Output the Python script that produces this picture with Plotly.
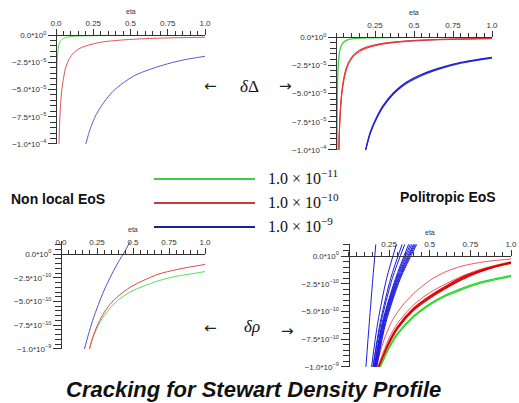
import plotly.graph_objects as go

W, H = 519, 403

# ---------------- data ----------------
# y values in units of 1e-4 (top panels) and 1e-9 (bottom panels)
x_ticks = [0.0, 0.25, 0.5, 0.75, 1.0]
x_ticktext = ["0.0", "0.25", "0.5", "0.75", "1.0"]
y_ticks = [0.0, -0.25, -0.5, -0.75, -1.0]
y_ticktext_top = ["0.0*10<sup>0</sup>", "−2.5*10<sup>−5</sup>", "−5.0*10<sup>−5</sup>",
                  "−7.5*10<sup>−5</sup>", "−1.0*10<sup>−4</sup>"]
y_ticktext_bot = ["0.0*10<sup>0</sup>", "−2.5*10<sup>−10</sup>", "−5.0*10<sup>−10</sup>",
                  "−7.5*10<sup>−10</sup>", "−1.0*10<sup>−9</sup>"]
legend_labels = ["1.0 × 10<sup>−11</sup>", "1.0 × 10<sup>−10</sup>", "1.0 × 10<sup>−9</sup>"]
legend_levels = [3, 2, 1]

# Panel 1: Non local EoS, delta Delta
p1_green_x = [0.003, 0.004, 0.005, 0.007, 0.01, 0.015, 0.02, 0.03, 0.05, 0.08, 0.12, 0.2, 0.5, 1.0]
p1_green_y = [-1.0, -0.55, -0.4, -0.28, -0.19, -0.12, -0.085, -0.055, -0.03, -0.018, -0.011, -0.007, -0.003, -0.0015]
p1_red_x = [0.02, 0.024, 0.03, 0.038, 0.05, 0.065, 0.085, 0.11, 0.15, 0.2, 0.3, 0.45, 0.65, 1.0]
p1_red_y = [-1.0, -0.82, -0.65, -0.52, -0.40, -0.30, -0.23, -0.175, -0.13, -0.10, -0.066, -0.045, -0.03, -0.02]
p1_blue_x = [0.2, 0.23, 0.27, 0.32, 0.38, 0.45, 0.53, 0.62, 0.72, 0.85, 1.0]
p1_blue_y = [-1.0, -0.86, -0.73, -0.62, -0.52, -0.44, -0.37, -0.32, -0.275, -0.23, -0.195]

# Panel 2: Politropic EoS, delta Delta (bundles)
p2_green_x = [0.006, 0.008, 0.01, 0.013, 0.017, 0.022, 0.03, 0.045, 0.07, 0.1, 0.2, 0.5, 1.0]
p2_green_y = [-1.0, -0.6, -0.4, -0.28, -0.2, -0.14, -0.09, -0.05, -0.028, -0.017, -0.008, -0.003, -0.0015]
p2_red_x = [0.018, 0.022, 0.027, 0.035, 0.045, 0.06, 0.08, 0.11, 0.15, 0.2, 0.3, 0.45, 0.65, 1.0]
p2_red_ya = [-1.0, -0.82, -0.67, -0.52, -0.41, -0.31, -0.23, -0.165, -0.12, -0.09, -0.058, -0.036, -0.022, -0.012]
p2_red_yb = [-1.0, -0.84, -0.69, -0.54, -0.43, -0.325, -0.242, -0.175, -0.13, -0.097, -0.063, -0.04, -0.025, -0.015]
p2_red_yc = [-1.0, -0.81, -0.66, -0.51, -0.40, -0.30, -0.224, -0.16, -0.116, -0.086, -0.055, -0.034, -0.021, -0.011]
p2_blue_x = [0.19, 0.22, 0.26, 0.3, 0.37, 0.45, 0.55, 0.65, 0.8, 1.0]
p2_blue_ya = [-1.0, -0.84, -0.71, -0.61, -0.49, -0.40, -0.33, -0.28, -0.225, -0.18]
p2_blue_yb = [-1.0, -0.85, -0.72, -0.62, -0.50, -0.41, -0.338, -0.286, -0.23, -0.185]
p2_blue_yc = [-1.0, -0.855, -0.725, -0.625, -0.505, -0.415, -0.343, -0.29, -0.234, -0.188]

# Panel 3: Non local EoS, delta rho
p3_blue_x = [0.163, 0.19, 0.22, 0.26, 0.30, 0.35, 0.40, 0.44, 0.48]
p3_blue_y = [-1.0, -0.85, -0.70, -0.53, -0.38, -0.22, -0.08, 0.02, 0.13]
p3_x = [0.198, 0.22, 0.25, 0.29, 0.34, 0.4, 0.48, 0.57, 0.68, 0.8, 0.9, 1.0]
p3_red_y = [-1.0, -0.88, -0.76, -0.64, -0.53, -0.44, -0.35, -0.28, -0.21, -0.165, -0.135, -0.11]
p3_green_y = [-1.0, -0.89, -0.78, -0.67, -0.57, -0.48, -0.40, -0.34, -0.28, -0.235, -0.21, -0.185]

# Panel 4: Politropic EoS, delta rho (families of curves)
p4_green_x = [0.195, 0.25, 0.3, 0.4, 0.5, 0.6, 0.7, 0.8, 0.9, 1.0]
p4_green_ya = [-1.0, -0.83, -0.71, -0.55, -0.44, -0.36, -0.30, -0.25, -0.215, -0.185]
p4_green_yb = [-1.0, -0.82, -0.70, -0.54, -0.43, -0.35, -0.29, -0.24, -0.205, -0.175]
p4_red_x = [0.185, 0.25, 0.3, 0.4, 0.5, 0.6, 0.7, 0.8, 0.9, 1.0]
p4_red_ya = [-1.0, -0.78, -0.65, -0.48, -0.37, -0.28, -0.20, -0.14, -0.095, -0.06]
p4_red_yb = [-1.0, -0.77, -0.64, -0.47, -0.36, -0.27, -0.19, -0.133, -0.09, -0.055]
p4_red_yc = [-1.0, -0.79, -0.66, -0.49, -0.38, -0.29, -0.21, -0.148, -0.10, -0.066]
p4_redthin_x = [0.17, 0.22, 0.27, 0.33, 0.4, 0.5, 0.6, 0.7, 0.8, 0.9, 1.0]
p4_redthin_y = [-1.0, -0.75, -0.58, -0.45, -0.34, -0.22, -0.14, -0.09, -0.06, -0.04, -0.028]
p4_redthin2_x = [0.18, 0.25, 0.3, 0.4, 0.5, 0.6, 0.7, 0.8, 0.9, 1.0]
p4_redthin2_y = [-1.0, -0.74, -0.61, -0.44, -0.33, -0.25, -0.18, -0.125, -0.085, -0.052]
p4_blue_y = [-1.0, -0.6, -0.2, 0.105]
p4_blue_xs = [
    [0.107, 0.128, 0.15, 0.168],
    [0.142, 0.18, 0.235, 0.295],
    [0.150, 0.195, 0.26, 0.33],
    [0.152, 0.20, 0.27, 0.346],
    [0.158, 0.208, 0.29, 0.37],
    [0.160, 0.212, 0.295, 0.38],
    [0.162, 0.215, 0.30, 0.39],
    [0.165, 0.218, 0.305, 0.40],
    [0.168, 0.222, 0.31, 0.405],
    [0.171, 0.226, 0.315, 0.412],
    [0.174, 0.23, 0.32, 0.42],
]

# ---------------- layout helpers ----------------
# panel geometry in pixels: x of eta=0, x of eta=1, top, y-of-zero, bottom
panels = {
    1: dict(x0=56, x1=205, top=35, zero=35, bottom=144, ytext=y_ticktext_top, xlab=True),
    2: dict(x0=336, x1=492, top=37, zero=37, bottom=150, ytext=y_ticktext_top, xlab=False),
    3: dict(x0=61, x1=205, top=241, zero=254, bottom=349, ytext=y_ticktext_bot, xlab=True),
    4: dict(x0=348.5, x1=511, top=244, zero=256, bottom=367, ytext=y_ticktext_bot, xlab=False),
}

AX = "#333333"
TICKFONT = dict(family="Liberation Sans, Arial, sans-serif", size=8, color="#333333")

fig = go.Figure()

def add_line(n, xs, ys, color, width=1.0):
    fig.add_trace(go.Scatter(x=xs, y=ys, mode="lines", xaxis=f"x{n}", yaxis=f"y{n}",
                             line=dict(color=color, width=width, shape="spline", smoothing=0.8),
                             hoverinfo="skip", showlegend=False))

layout = dict(width=W, height=H, margin=dict(l=0, r=0, t=0, b=0),
              paper_bgcolor="white", plot_bgcolor="white", showlegend=False)

annotations = []
for n, p in panels.items():
    ytop = (p["zero"] - p["top"]) / (p["bottom"] - p["zero"])
    xdom = [p["x0"] / W, p["x1"] / W]
    ydom = [1 - p["bottom"] / H, 1 - p["top"] / H]
    if p["xlab"]:
        xt, xtt = x_ticks, x_ticktext
    else:
        xt, xtt = x_ticks[1:], x_ticktext[1:]
    layout[f"xaxis{n}"] = dict(
        domain=xdom, range=[0, 1.0], anchor="free", position=1 - p["zero"] / H, side="top",
        showline=True, linecolor=AX, linewidth=1, showgrid=False, zeroline=False,
        ticks="outside", ticklen=6, tickcolor=AX, tickwidth=1,
        tickmode="array", tickvals=xt, ticktext=xtt, tickfont=TICKFONT,
        ticklabeloverflow="allow",
        minor=dict(ticks="outside", ticklen=4, tickcolor=AX, tick0=0, dtick=0.05, showgrid=False),
        automargin=False, fixedrange=True)
    layout[f"yaxis{n}"] = dict(
        domain=ydom, range=[-1.0005, ytop + 0.0005], anchor="free", position=p["x0"] / W, side="left",
        showline=True, linecolor=AX, linewidth=1, showgrid=False, zeroline=False,
        ticks="outside", ticklen=8, tickcolor=AX, tickwidth=1,
        tickmode="array", tickvals=y_ticks, ticktext=p["ytext"], tickfont=TICKFONT,
        ticklabeloverflow="allow",
        minor=dict(ticks="outside", ticklen=6, tickcolor=AX, tick0=0, dtick=0.05, showgrid=False),
        automargin=False, fixedrange=True)
    # axis title "eta" above tick labels
    annotations.append(dict(text="eta", xref=f"x{n}", x=0.5, yref="paper",
                            y=1 - (p["zero"] - 24) / H, yanchor="middle", showarrow=False,
                            font=dict(family="Liberation Sans, Arial", size=7, color="#333333")))

# legend axes (hidden)
layout["xaxis5"] = dict(domain=[154 / W, 255 / W], range=[0, 1], visible=False, anchor="y5", fixedrange=True)
layout["yaxis5"] = dict(domain=[1 - 239 / H, 1 - 167 / H], range=[0.5, 3.5], visible=False, anchor="x5", fixedrange=True)

# ---------------- traces ----------------
G1, R1, B1 = "#55d655", "#e25555", "#5a5ad8"
add_line(1, p1_green_x, p1_green_y, G1)
add_line(1, p1_red_x, p1_red_y, R1)
add_line(1, p1_blue_x, p1_blue_y, B1)

G2, R2, B2, B2L = "#3fd23f", "#e23a3a", "#2323cc", "#7a7ae6"
add_line(2, p2_green_x, p2_green_y, G2, 1.3)
for ys in (p2_red_ya, p2_red_yb, p2_red_yc):
    add_line(2, p2_red_x, ys, R2, 1.0)
add_line(2, p2_blue_x, p2_blue_yc, B2L, 1.0)
add_line(2, p2_blue_x, p2_blue_yb, B2, 1.2)
add_line(2, p2_blue_x, p2_blue_ya, B2, 1.2)

add_line(3, p3_x, p3_green_y, "#5ade5a")
add_line(3, p3_x, p3_red_y, "#e04848")
add_line(3, p3_blue_x, p3_blue_y, "#5050d2")

add_line(4, p4_green_x, p4_green_ya, "#2fd82f", 1.3)
add_line(4, p4_green_x, p4_green_yb, "#2fd82f", 1.3)
add_line(4, p4_redthin_x, p4_redthin_y, "#e53030", 0.8)
add_line(4, p4_redthin2_x, p4_redthin2_y, "#e53030", 0.8)
for ys in (p4_red_ya, p4_red_yb, p4_red_yc):
    add_line(4, p4_red_x, ys, "#e00000", 1.3)
for xs in p4_blue_xs:
    add_line(4, xs, p4_blue_y, "#1c1cdc", 1.0)

# legend lines
leg_colors = ["#3cd23c", "#c04040", "#20208c"]
for lvl, col in zip(legend_levels, leg_colors):
    fig.add_trace(go.Scatter(x=[0, 1], y=[lvl, lvl], mode="lines", xaxis="x5", yaxis="y5",
                             line=dict(color=col, width=2.2), hoverinfo="skip", showlegend=False))

SERIF = "Liberation Serif, DejaVu Serif, serif"
for lbl, py in zip(legend_labels, [177, 201, 225]):
    annotations.append(dict(text=lbl, xref="paper", yref="paper", x=266 / W, y=1 - py / H,
                            xanchor="left", yanchor="middle", showarrow=False,
                            font=dict(family=SERIF, size=16, color="#111")))

# arrows and symbols
for txt, px, py in [("←", 210, 86), ("→", 285, 86), ("←", 210, 328), ("→", 287, 331)]:
    annotations.append(dict(text=txt, xref="paper", yref="paper", x=px / W, y=1 - py / H,
                            xanchor="center", yanchor="middle", showarrow=False,
                            font=dict(family="DejaVu Sans, sans-serif", size=15, color="#222")))
for txt, px, py in [("<i>δ</i>Δ", 249, 86), ("<i>δρ</i>", 252, 326)]:
    annotations.append(dict(text=txt, xref="paper", yref="paper", x=px / W, y=1 - py / H,
                            xanchor="center", yanchor="middle", showarrow=False,
                            font=dict(family=SERIF, size=17, color="#111")))

annotations.append(dict(text="<b>Non local EoS</b>", xref="paper", yref="paper", x=58 / W, y=1 - 199 / H,
                        xanchor="center", yanchor="middle", showarrow=False,
                        font=dict(family="Liberation Sans, Arial", size=14, color="#111")))
annotations.append(dict(text="<b>Politropic EoS</b>", xref="paper", yref="paper", x=448 / W, y=1 - 197 / H,
                        xanchor="center", yanchor="middle", showarrow=False,
                        font=dict(family="Liberation Sans, Arial", size=14, color="#111")))
annotations.append(dict(text="<b><i>Cracking for Stewart Density Profile</i></b>", xref="paper", yref="paper",
                        x=253 / W, y=1 - 389 / H, xanchor="center", yanchor="middle", showarrow=False,
                        font=dict(family="Liberation Sans, Arial", size=22, color="#111")))

layout["annotations"] = annotations
layout["hovermode"] = False
fig.update_layout(**layout)
fig.write_html("out.html",
               config={"displayModeBar": False, "staticPlot": True},
               post_script="document.body.style.margin='0';document.body.style.overflow='hidden';")
